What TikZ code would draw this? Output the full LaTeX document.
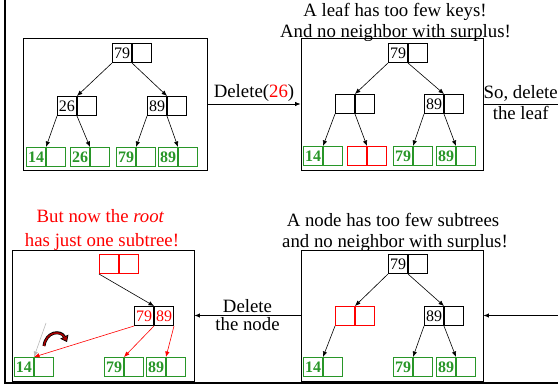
\documentclass[tikz,border=0pt]{standalone}
\usepackage{fontspec}
\setmainfont{Liberation Serif}
\usetikzlibrary{arrows.meta}
\definecolor{leafgreen}{RGB}{40,150,40}
\definecolor{curvered}{RGB}{170,0,0}
\newcommand\keypair[6]{%
  \node[cell,#6,anchor=north east] (#1a) at (#2,#3) {#4};
  \node[cell,#6,anchor=north west] (#1b) at (#2,#3) {#5};}
\begin{document}
\begin{tikzpicture}[x=1pt,y=-1pt,
  cell/.style={draw, line width=1pt, minimum width=19pt, minimum height=19pt, inner sep=0pt, font=\fontsize{16}{18}\selectfont},
  blk/.style={draw=black,text=black},
  lf/.style={draw=leafgreen,text=leafgreen,font=\fontsize{16}{18}\selectfont\bfseries},
  rd/.style={draw=red,text=red},
  bkred/.style={draw=black,text=red},
  panel/.style={draw, line width=0.9pt, inner sep=0pt},
  tarrow/.style={-{Latex[length=5.5pt,width=4.5pt]}, line width=0.6pt},
  conn/.style={line width=0.8pt},
  conna/.style={line width=0.8pt, -{Latex[length=5.5pt,width=4.5pt]}},
  ttl/.style={anchor=base, inner sep=0pt, font=\fontsize{18.8}{21}\selectfont},
  lab/.style={inner sep=2pt, font=\fontsize{18.8}{21}\selectfont}]
\useasboundingbox (0,0) rectangle (558,385);
% frame
\draw[line width=2pt] (5,0) -- (5,383.5) -- (558,383.5);
% panels
\node[panel, minimum width=184pt, minimum height=132pt] (P1) at (115,104) {};
\node[panel, minimum width=182pt, minimum height=132pt] (P2) at (392,104) {};
\node[panel, minimum width=182pt, minimum height=131pt] (P3) at (392,315.5) {};
\node[panel, minimum width=182pt, minimum height=131pt] (P4) at (103,315.5) {};
% ---------- panel 1
\keypair{pA}{132}{43}{79}{}{blk}
\keypair{pB}{77}{96}{26}{}{blk}
\keypair{pC}{167}{96}{89}{}{blk}
\keypair{pD}{46}{147}{14}{}{lf}
\keypair{pE}{90}{147}{26}{}{lf}
\keypair{pF}{136}{147}{79}{}{lf}
\keypair{pG}{178}{147}{89}{}{lf}
\draw[tarrow] (pAa.south west) -- (pBa.north east);
\draw[tarrow] (pAa.south east) -- (pCa.north east);
\draw[tarrow] (pBa.south west) -- (pDa.north east);
\draw[tarrow] (pBa.south east) -- (pEa.north east);
\draw[tarrow] (pCa.south west) -- (pFa.north east);
\draw[tarrow] (pCa.south east) -- (pGa.north east);
% ---------- panel 2
\node[ttl] (t2a) at (395,17) {A leaf has too few keys!};
\node[ttl] (t2b) at (395.5,37.5) {And no neighbor with surplus!};
\keypair{qA}{408}{43}{79}{}{blk}
\keypair{qB}{355}{94}{}{}{blk}
\keypair{qC}{444}{94}{89}{}{blk}
\keypair{qD}{323}{146}{14}{}{lf}
\keypair{qE}{367}{146}{}{}{rd}
\keypair{qF}{413}{146}{79}{}{lf}
\keypair{qG}{456}{146}{89}{}{lf}
\draw[tarrow] (qAa.south west) -- (qBa.north east);
\draw[tarrow] (qAa.south east) -- (qCa.north east);
\draw[tarrow] (qBa.south west) -- (qDa.north east);
\draw[tarrow] (qBa.south east) -- (qEa.north east);
\draw[tarrow] (qCa.south west) -- (qFa.north east);
\draw[tarrow] (qCa.south east) -- (qGa.north east);
% ---------- panel 3
\node[ttl] (t3a) at (393,227) {A node has too few subtrees};
\node[ttl] (t3b) at (395,248) {and no neighbor with surplus!};
\keypair{rA}{408}{254}{79}{}{blk}
\keypair{rB}{355}{306}{}{}{rd}
\keypair{rC}{444}{306}{89}{}{blk}
\keypair{rD}{323}{357}{14}{}{lf}
\keypair{rF}{413}{357}{79}{}{lf}
\keypair{rG}{456}{357}{89}{}{lf}
\draw[tarrow] (rAa.south west) -- (rBa.north east);
\draw[tarrow] (rAa.south east) -- (rCa.north east);
\draw[tarrow] (rBa.south west) -- (rDa.north east);
\draw[tarrow] (rCa.south west) -- (rFa.north east);
\draw[tarrow] (rCa.south east) -- (rGa.north east);
% ---------- panel 4
\node[ttl, text=red] (t4a) at (100.5,223) {But now the \textit{root}};
\node[ttl, text=red] (t4b) at (102,247) {has just one subtree!};
\keypair{sA}{119}{254}{}{}{rd}
\keypair{sC}{154}{306}{79}{89}{bkred}
\keypair{sD}{34}{357}{14}{}{lf}
\keypair{sF}{124}{357}{79}{}{lf}
\keypair{sG}{166}{357}{89}{}{lf}
\coordinate (gs) at (46,323);
\draw[tarrow, gray!55] (gs) -- (sDa.north east);
\draw[tarrow] (sAa.south west) -- (sCa.north east);
\draw[tarrow, red] (sCa.south west) -- (sDa.north east);
\draw[tarrow, red] (sCa.south east) -- (sFa.north east);
\draw[tarrow, red] (sCb.south east) -- (sGa.north east);
% curved arrow
\coordinate (c0) at (44,346);
\coordinate (c1) at (67,342);
\draw[line width=3pt, black, -{Triangle[length=6pt,width=9pt,line width=0.7pt,fill=curvered]}]
  (c0) .. controls (46,331) and (61,330) .. (c1);
\draw[line width=1.5pt, curvered, shorten >=5pt]
  (c0) .. controls (46,331) and (61,330) .. (c1);
% ---------- connectors
\draw[conna] (P1.east) -- (P2.west) node[midway, above, lab] (l1) {Delete(\textcolor{red}{26})};
\coordinate (E1) at (558,104);
\draw[conn] (P2.east) -- (E1)
  node[midway, above, lab] (l2a) {So, delete}
  node[midway, below, lab] (l2b) {the leaf};
\coordinate (E2) at (558,315.5);
\draw[conna] (E2) -- (P3.east);
\draw[conna] (P3.west) -- (P4.east)
  node[midway, above, lab] (l3a) {Delete}
  node[midway, below, lab] (l3b) {the node};
\end{tikzpicture}
\end{document}
